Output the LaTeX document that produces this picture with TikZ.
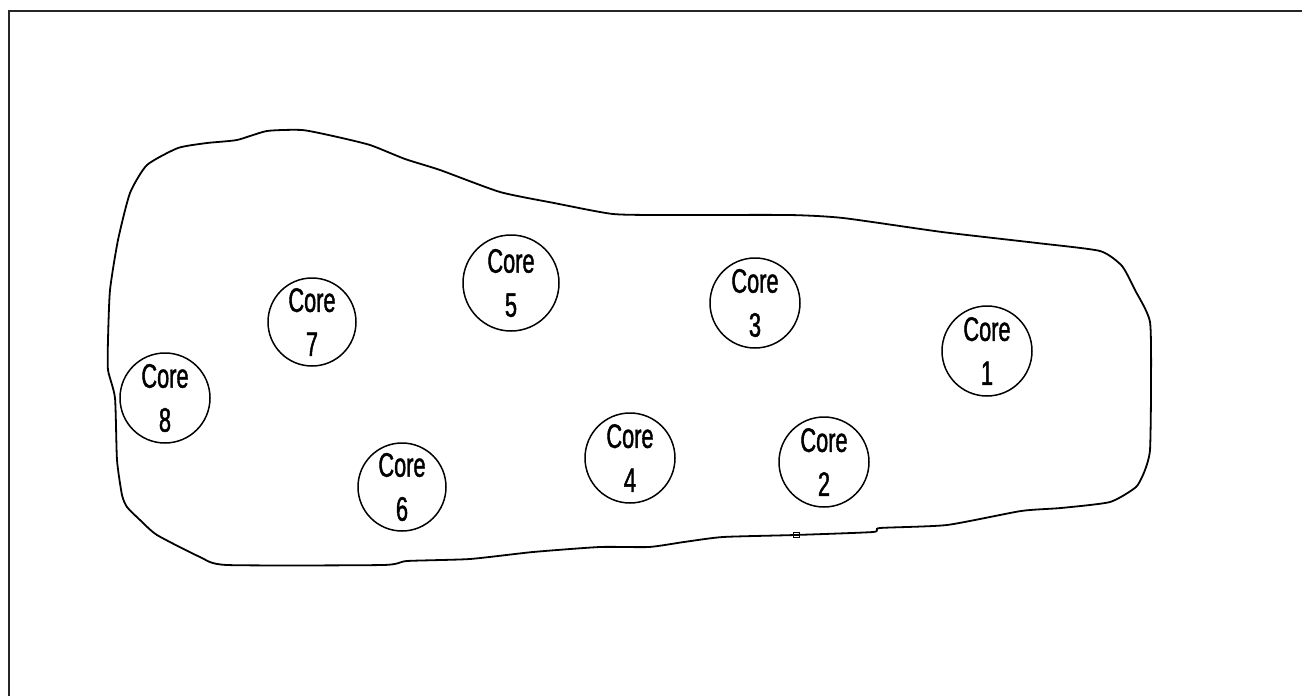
\documentclass[tikz,border=0pt]{standalone}
\usepackage{fontspec}
\newfontfamily\corefont[FakeStretch=0.64,FakeBold=1.2]{Liberation Sans}
\begin{document}
\begin{tikzpicture}[x=1pt,y=-1pt,
  frame/.style={line width=2.4pt,draw=black!85},
  outline/.style={line width=1.8pt,draw=black},
  core/.style={circle,draw=black,line width=1.5pt,minimum size=90pt,inner sep=0pt,
    align=center,font=\corefont\fontsize{34}{44}\selectfont}]
\useasboundingbox (0,0) rectangle (1302,696);
\fill[white] (0,0) rectangle (1302,696);
% outer frame (left and top edges visible)
\coordinate (fbl) at (9,700);
\coordinate (ftr) at (1306,11);
\draw[frame] (fbl) |- (ftr);
% region outline
\draw[outline] plot[smooth cycle,tension=0.35] coordinates {
 (118,240) (130,193) (147,165) (178,148) (207,143) (237,140) (267,131) (302,130)
 (333,136) (370,145) (405,159) (440,170) (500,192) (554,203) (613,214) (671,215)
 (789,215) (843,218) (942,232) (1037,243) (1100,251) (1122,266) (1135,290)
 (1150,322) (1151,390) (1150,450) (1145,470) (1136,487) (1110,502) (1061,508)
 (1021,511) (947,525) (880,528) (873,532) (795,535) (723,537) (684,542)
 (649,547) (600,547) (533,552) (470,559) (407,561) (383,565) (227,565)
 (200,557) (157,535) (140,520) (127,507) (122,495) (117,460) (115,398)
 (108,370) (108,340) (110,290)};
\node[draw=black,line width=1pt,minimum width=6pt,minimum height=5pt,inner sep=0pt] (mark) at (796,535) {};
% cores
\node[core] (c1) at (987,351) {Core\\1};
\node[core] (c2) at (824,462) {Core\\2};
\node[core] (c3) at (755,303) {Core\\3};
\node[core] (c4) at (630,458) {Core\\4};
\node[core,minimum size=96pt] (c5) at (511,283) {Core\\5};
\node[core,minimum size=88pt] (c6) at (402,487) {Core\\6};
\node[core,minimum size=88pt] (c7) at (312,322) {Core\\7};
\node[core] (c8) at (165,398) {Core\\8};
\end{tikzpicture}
\end{document}
